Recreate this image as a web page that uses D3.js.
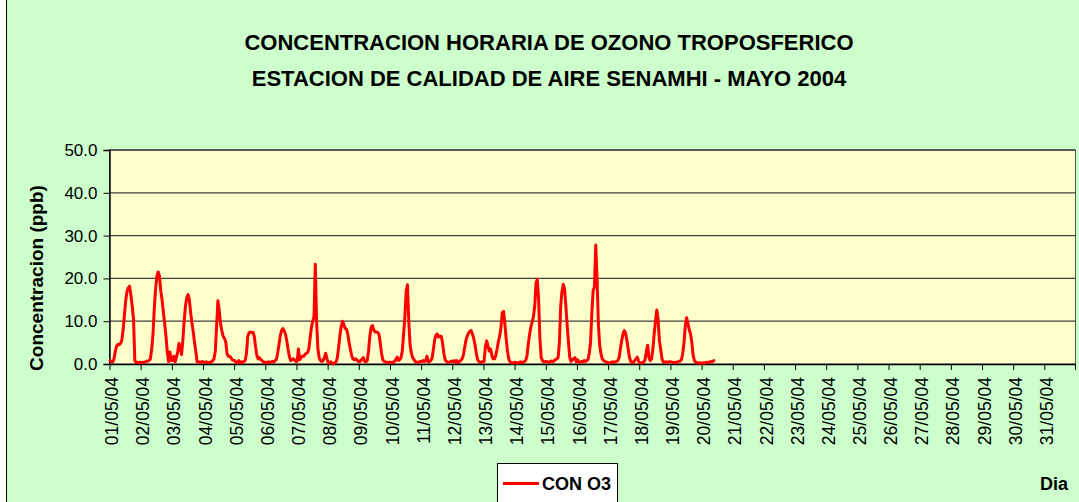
<!DOCTYPE html>
<html>
<head>
<meta charset="utf-8">
<script src="https://cdn.jsdelivr.net/npm/d3@7"></script>
<style>
  html, body { margin: 0; padding: 0; background: #ffffff; }
  svg { display: block; font-family: Arial, "Liberation Sans", sans-serif; }
</style>
</head>
<body>
<svg id="chart" width="1079" height="502"></svg>
<script>
// Day labels of the category axis (one per day of May 2004)
const dayLabels = [
  "01/05/04","02/05/04","03/05/04","04/05/04","05/05/04","06/05/04","07/05/04","08/05/04",
  "09/05/04","10/05/04","11/05/04","12/05/04","13/05/04","14/05/04","15/05/04","16/05/04",
  "17/05/04","18/05/04","19/05/04","20/05/04","21/05/04","22/05/04","23/05/04","24/05/04",
  "25/05/04","26/05/04","27/05/04","28/05/04","29/05/04","30/05/04","31/05/04"
];

// Hourly O3 concentration (ppb), one row per day, hours 00..23
const o3Hourly = [
  [0.8,0.5,0.5,1.2,3.0,4.2,4.6,4.5,4.8,5.5,8.0,11.5,14.8,17.0,17.8,18.2,16.0,13.5,10.5,0.8,0.3,0.4,0.3,0.4],
  [0.4,0.3,0.4,0.5,0.6,0.7,0.8,1.2,3.5,7.0,13.0,17.5,20.5,21.5,20.5,17.0,15.0,12.0,9.5,6.5,2.8,0.6,2.8,0.8],
  [0.8,1.8,0.5,1.5,2.8,4.8,3.5,2.2,5.5,10.0,13.5,15.5,16.2,15.0,12.0,9.5,7.5,5.0,2.8,0.5,0.4,0.5,0.4,0.6],
  [0.3,0.4,0.5,0.4,0.3,0.4,0.5,0.8,1.2,3.0,9.0,14.8,12.5,9.5,7.8,6.5,6.0,5.2,2.5,1.8,1.8,1.5,1.0,0.8],
  [0.8,0.4,0.3,0.8,0.3,0.5,0.3,0.6,0.8,2.5,6.5,7.3,7.5,7.3,7.4,6.5,4.0,2.0,1.2,1.5,1.0,0.8,0.5,0.3],
  [0.4,0.3,0.5,0.4,0.5,0.6,0.5,0.8,1.0,2.5,4.5,6.5,7.8,8.3,7.8,7.0,5.5,3.5,1.8,0.8,1.0,1.2,1.0,0.6],
  [0.6,3.5,1.0,1.5,1.8,1.8,2.2,2.5,2.6,3.5,6.0,8.5,10.0,11.0,23.3,10.0,3.5,1.5,0.8,0.6,0.8,1.5,2.5,1.2],
  [0.3,0.2,0.5,0.2,0.0,0.3,0.5,1.5,4.0,6.8,8.8,10.0,9.2,8.3,8.2,7.0,5.0,3.5,2.0,1.2,1.0,1.2,1.0,0.6],
  [0.5,0.8,1.2,1.5,0.6,0.5,0.8,3.0,6.5,8.5,9.0,8.0,7.5,7.5,7.4,7.0,5.0,2.5,1.0,0.6,0.5,0.4,0.3,0.4],
  [0.4,0.3,0.4,0.6,1.0,1.6,0.8,1.0,1.5,3.0,7.0,11.0,17.0,18.5,10.0,4.5,2.5,1.5,1.0,0.6,0.4,0.4,0.5,0.6],
  [0.6,0.8,0.6,0.8,1.8,0.5,0.6,0.8,1.5,3.5,5.8,6.8,7.0,6.3,6.5,6.5,5.0,2.5,1.0,0.6,0.4,0.4,0.5,0.7],
  [0.5,0.8,0.5,0.8,0.3,0.6,0.8,1.2,2.0,3.8,5.5,6.5,7.2,7.6,7.8,7.0,6.0,4.5,2.5,1.0,0.6,0.4,0.4,0.6],
  [0.6,4.0,5.4,4.2,3.0,3.5,2.0,1.2,1.2,2.0,3.5,5.2,6.5,8.5,12.0,12.3,9.5,6.0,3.0,1.2,0.5,0.3,0.2,0.3],
  [0.4,0.3,0.2,0.3,0.5,0.3,0.4,0.6,0.8,1.8,4.5,6.8,8.6,9.8,11.0,13.5,19.0,19.8,15.0,6.0,1.5,0.8,0.5,0.5],
  [0.6,0.5,0.4,0.6,0.7,0.5,0.8,1.0,1.2,1.5,5.0,13.5,17.0,18.6,17.5,13.5,9.0,5.0,1.5,0.6,1.0,1.2,1.5,0.5],
  [1.0,0.5,0.4,0.6,0.5,0.8,0.6,0.8,1.0,2.5,5.0,12.0,17.2,18.0,27.8,20.0,9.5,4.5,2.4,1.2,0.8,0.6,0.5,0.3],
  [0.3,0.3,0.4,0.5,0.4,0.5,0.6,0.8,1.5,3.5,5.5,7.0,7.8,7.2,5.5,3.5,1.5,0.6,0.4,0.3,0.8,1.2,1.6,0.6],
  [0.3,0.2,0.3,0.5,1.0,3.0,4.4,1.5,0.8,1.2,3.5,7.0,10.0,12.6,10.5,5.5,3.5,1.2,0.5,0.4,0.5,0.4,0.5,0.5],
  [0.5,0.4,0.3,0.4,0.3,0.5,0.6,0.7,1.0,2.5,5.0,9.0,10.8,9.5,8.0,7.0,5.0,2.0,0.8,0.4,0.3,0.2,0.3,0.2],
  [0.2,0.3,0.2,0.4,0.3,0.4,0.5,0.6,0.6,0.8]
];

// Value axis ticks (ppb)
const yTicks = [0, 10, 20, 30, 40, 50];

const titleLines = [
  "CONCENTRACION HORARIA DE OZONO TROPOSFERICO",
  "ESTACION DE CALIDAD DE AIRE SENAMHI - MAYO 2004"
];
const seriesName = "CON O3";
const yTitle = "Concentracion (ppb)";
const xTitle = "Dia";

// ---- layout ----
const W = 1079, H = 502;
const plot = { left: 109.5, right: 1075.5, top: 150, bottom: 364 };
const FONT = "Arial, 'Liberation Sans', sans-serif";

const svg = d3.select("#chart");

// page and chart-area background
svg.append("rect").attr("x", 0).attr("y", 0).attr("width", W).attr("height", H).attr("fill", "#ffffff");
svg.append("rect").attr("x", 7).attr("y", 0).attr("width", W - 7).attr("height", H).attr("fill", "#CCFFCC");
svg.append("line").attr("x1", 6.5).attr("x2", 6.5).attr("y1", 0).attr("y2", H)
  .attr("stroke", "#000").attr("stroke-width", 1);

// scales: x in days (hour i sits at the middle of its slot), y in ppb
const x = d3.scaleLinear().domain([0, dayLabels.length]).range([plot.left, plot.right]);
const y = d3.scaleLinear().domain([0, 50]).range([plot.bottom, plot.top]);

// plot area
svg.append("rect")
  .attr("x", plot.left).attr("y", plot.top)
  .attr("width", plot.right - plot.left).attr("height", plot.bottom - plot.top)
  .attr("fill", "#FFFFCC").attr("stroke", "#555").attr("stroke-width", 1);

// horizontal gridlines
svg.append("g").selectAll("line")
  .data(yTicks.filter(v => v > 0))
  .join("line")
  .attr("x1", plot.left).attr("x2", plot.right)
  .attr("y1", d => y(d)).attr("y2", d => y(d))
  .attr("stroke", "#404040").attr("stroke-width", 1.3);

// y axis
const yAxis = d3.axisLeft(y).tickValues(yTicks).tickFormat(d3.format(".1f")).tickSize(6).tickPadding(6);
const gy = svg.append("g").attr("transform", `translate(${plot.left},0)`).call(yAxis);
gy.select(".domain").attr("stroke", "#000").attr("stroke-width", 1.4);
gy.selectAll(".tick line").attr("stroke", "#000").attr("stroke-width", 1);
gy.selectAll(".tick text").attr("font-size", 17).attr("fill", "#000").attr("font-family", FONT);

// x axis (category ticks at day boundaries)
const dayIdx = d3.range(dayLabels.length);
const xAxis = d3.axisBottom(x).tickValues(dayIdx).tickFormat(i => dayLabels[i]).tickSize(6).tickSizeOuter(0);
const gx = svg.append("g").attr("transform", `translate(0,${plot.bottom})`).call(xAxis);
gx.select(".domain").attr("stroke", "#000").attr("stroke-width", 1.4);
gx.selectAll(".tick line").attr("stroke", "#000").attr("stroke-width", 1);
gx.selectAll(".tick text")
  .attr("font-size", 17.5).attr("fill", "#000").attr("font-family", FONT)
  .attr("text-anchor", "end")
  .attr("transform", "translate(2,13) rotate(-90)")
  .attr("x", 0).attr("y", 0).attr("dy", "0.35em");
// right end tick of the category axis
svg.append("line").attr("x1", plot.right).attr("x2", plot.right)
  .attr("y1", plot.bottom).attr("y2", plot.bottom + 6).attr("stroke", "#000");

// series: flatten days into hourly points
const points = [];
o3Hourly.forEach((day, d) => day.forEach((v, h) => points.push({ t: d + (h + 0.5) / 24, v })));

const line = d3.line().x(p => x(p.t)).y(p => y(p.v)).curve(d3.curveLinear);
svg.append("path")
  .datum(points)
  .attr("d", line)
  .attr("fill", "none")
  .attr("stroke", "#FF0000")
  .attr("stroke-width", 3)
  .attr("stroke-linejoin", "round")
  .attr("stroke-linecap", "round");

// titles
svg.append("g").selectAll("text")
  .data(titleLines)
  .join("text")
  .attr("x", 549).attr("y", (d, i) => 50 + i * 36)
  .attr("text-anchor", "middle")
  .attr("font-size", 22).attr("font-weight", "bold").attr("fill", "#000")
  .text(d => d);

// y axis title
svg.append("text")
  .attr("transform", "translate(43,278) rotate(-90)")
  .attr("text-anchor", "middle")
  .attr("font-size", 19).attr("font-weight", "bold").attr("fill", "#000")
  .text(yTitle);

// x axis title
svg.append("text")
  .attr("x", 1040).attr("y", 490)
  .attr("font-size", 18).attr("font-weight", "bold").attr("fill", "#000")
  .text(xTitle);

// legend
const lg = svg.append("g");
lg.append("rect").attr("x", 497.5).attr("y", 463.5).attr("width", 120).attr("height", 50)
  .attr("fill", "#fff").attr("stroke", "#000").attr("stroke-width", 1);
lg.append("line").attr("x1", 503).attr("x2", 539).attr("y1", 483.5).attr("y2", 483.5)
  .attr("stroke", "#FF0000").attr("stroke-width", 3);
lg.append("text").attr("x", 542).attr("y", 490)
  .attr("font-size", 18).attr("font-weight", "bold").attr("fill", "#000")
  .text(seriesName);
</script>
</body>
</html>
